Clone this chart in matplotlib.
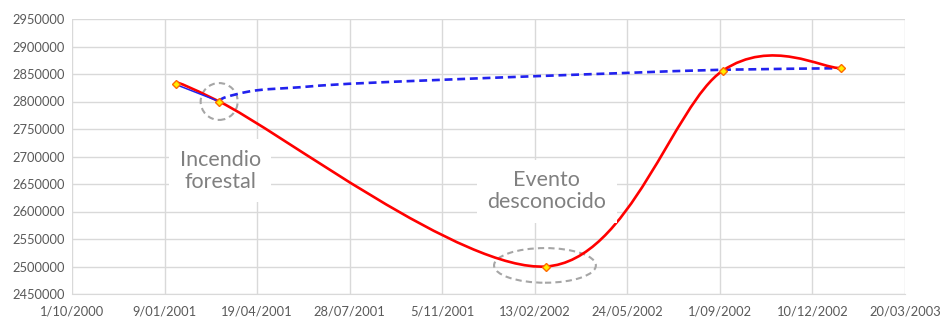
import matplotlib
matplotlib.use("Agg")
import matplotlib.pyplot as plt
import matplotlib.dates as mdates
from matplotlib.path import Path
from matplotlib.patches import PathPatch, Ellipse
import numpy as np
import datetime as dt

plt.rcParams["font.family"] = ["Lato", "DejaVu Sans"]

# red series (smoothed line with markers)
RED_DATES = ["2001-01-21", "2001-03-09", "2002-02-25", "2002-09-04", "2003-01-10"]
RED_VALUES = [2831000, 2800000, 2500000, 2856000, 2860500]

# blue series: solid start then dashed curve
BLUE_SOLID_DATES = ["2001-01-21", "2001-03-09"]
BLUE_SOLID_VALUES = [2831000, 2800000]
BLUE_DASH_DATES = ["2001-03-09", "2001-03-16", "2001-04-17", "2001-06-05",
                   "2001-07-27", "2001-11-13", "2002-02-13", "2002-05-24",
                   "2002-09-01", "2003-01-10"]
BLUE_DASH_VALUES = [2800000, 2807800, 2820000, 2826000, 2832200, 2840000,
                    2846000, 2852000, 2857600, 2860500]

X_TICK_DATES = ["2000-10-01", "2001-01-09", "2001-04-19", "2001-07-28", "2001-11-05",
                "2002-02-13", "2002-05-24", "2002-09-01", "2002-12-10", "2003-03-20"]
X_TICK_LABELS = ["1/10/2000", "9/01/2001", "19/04/2001", "28/07/2001", "5/11/2001",
                 "13/02/2002", "24/05/2002", "1/09/2002", "10/12/2002", "20/03/2003"]
Y_TICKS = list(range(2450000, 2950001, 50000))

GRID = "#d9d9d9"
TEXT = "#595959"


def to_num(dates):
    return mdates.date2num([dt.datetime.strptime(d, "%Y-%m-%d") for d in dates])


def smooth_path(xs, ys):
    # Excel-like smoothing: cubic bezier, catmull-rom control points
    pts = np.column_stack([xs, ys]).astype(float)
    n = len(pts)
    verts = [pts[0]]
    codes = [Path.MOVETO]
    for i in range(n - 1):
        p0 = pts[i - 1] if i > 0 else pts[i]
        p1 = pts[i]
        p2 = pts[i + 1]
        p3 = pts[i + 2] if i + 2 < n else pts[i + 1]
        c1 = p1 + (p2 - p0) / 6.0
        c2 = p2 - (p3 - p1) / 6.0
        verts += [c1, c2, p2]
        codes += [Path.CURVE4] * 3
    return Path(verts, codes)


fig = plt.figure(figsize=(9.4, 3.23), dpi=100)
ax = fig.add_axes([72 / 940, 1 - 294 / 323, 833 / 940, 275 / 323])

rx, ry = to_num(RED_DATES), RED_VALUES
bx, by = to_num(BLUE_DASH_DATES), BLUE_DASH_VALUES

ax.add_patch(PathPatch(smooth_path(bx, by), fill=False, edgecolor="#2222ee",
                       lw=1.9, linestyle=(0, (3, 1.8)), zorder=3))
ax.add_patch(PathPatch(smooth_path(rx, ry), fill=False, edgecolor="#ff0000",
                       lw=1.9, zorder=4, capstyle="round"))
ax.plot(to_num(BLUE_SOLID_DATES), BLUE_SOLID_VALUES, color="#2222ee", lw=1.1, zorder=5)
ax.plot(rx, ry, linestyle="none", marker="D", ms=4.5, mfc="#ffee00",
        mec="#ff6a00", mew=1.0, zorder=6)

# dashed ellipses around the two events
ax.add_patch(Ellipse((rx[1], ry[1]), width=40, height=67000, fill=False,
                     edgecolor="#a6a6a6", lw=1.5, linestyle=(0, (3, 2)), zorder=2))
ax.add_patch(Ellipse((rx[2] - 1, ry[2] + 2000), width=110, height=63000, fill=False,
                     edgecolor="#a6a6a6", lw=1.5, linestyle=(0, (3, 2)), zorder=2))

box = dict(boxstyle="square,pad=0.5", fc="white", ec="none")
ax.text(to_num(["2001-03-10"])[0], 2674000, "Incendio\nforestal", ha="center",
        va="center", fontsize=15.5, color="#808080", bbox=box, zorder=7,
        linespacing=1.1)
ax.text(to_num(["2002-02-26"])[0], 2637000, "Evento\ndesconocido", ha="center",
        va="center", fontsize=15.5, color="#808080", bbox=box, zorder=7,
        linespacing=1.1)

ax.set_xlim(to_num(["2000-10-01"])[0], to_num(["2003-03-20"])[0])
ax.set_ylim(2450000, 2950000)
ax.set_xticks(to_num(X_TICK_DATES))
ax.set_xticklabels(X_TICK_LABELS)
ax.set_yticks(Y_TICKS)
ax.set_yticklabels([str(v) for v in Y_TICKS])
ax.tick_params(length=0, labelsize=9.3, colors=TEXT, pad=8)
ax.tick_params(axis="y", pad=5)
ax.grid(True, color=GRID, lw=1)
ax.set_axisbelow(True)
for s in ["top", "right", "left"]:
    ax.spines[s].set_visible(False)
ax.spines["bottom"].set_color(GRID)

fig.savefig("out.png", dpi=100)
